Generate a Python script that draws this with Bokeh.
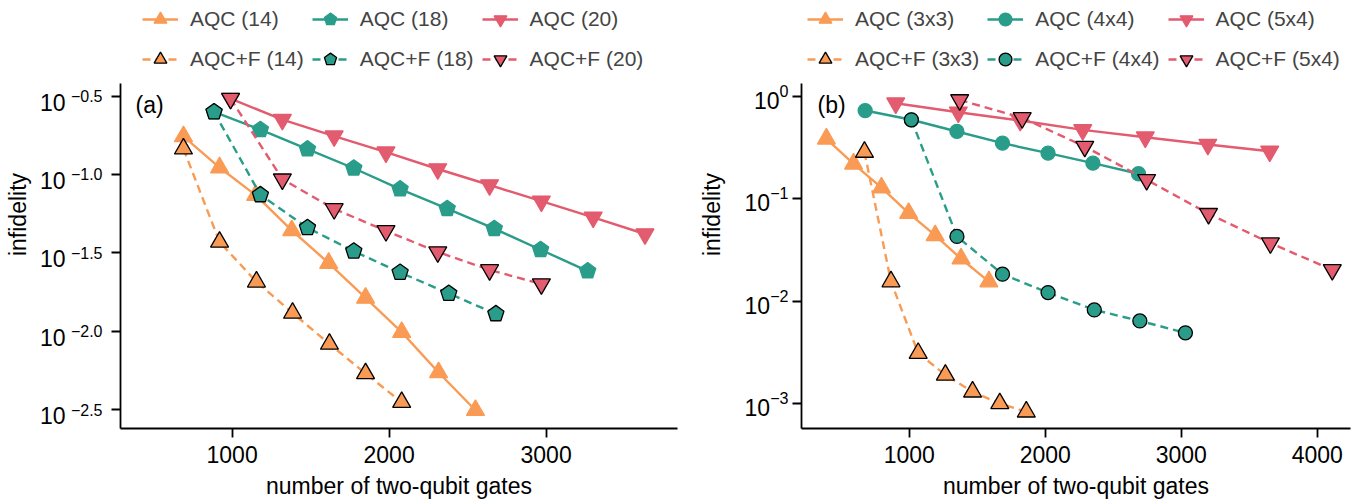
from bokeh.plotting import figure
from bokeh.models import (Range1d, FixedTicker, Legend, LegendItem, Label, LogAxis, LogScale)
from bokeh.layouts import row
from bokeh.embed import file_html
from bokeh.resources import INLINE

FONT = "Liberation Sans"
ORANGE = "#F99B55"
TEAL = "#2A9D8A"
RED = "#E35B6E"

# ---------------- panel (a) data ----------------
gates_14 = [690, 920, 1150, 1380, 1615, 1850, 2080, 2315, 2550]
infid_14 = [0.1750, 0.1107, 0.0738, 0.0440, 0.0272, 0.01629, 0.00986, 0.00545, 0.00313]
gates_f14 = [690, 920, 1155, 1385, 1620, 1850, 2080]
infid_f14 = [0.1459, 0.0371, 0.02065, 0.01306, 0.00828, 0.00537, 0.00352]
gates_18 = [885, 1180, 1480, 1775, 2070, 2370, 2670, 2965, 3265]
infid_18 = [0.2506, 0.1932, 0.1452, 0.1096, 0.0807, 0.0605, 0.0451, 0.0331, 0.0242]
gates_f18 = [885, 1180, 1480, 1775, 2070, 2380, 2680]
infid_f18 = [0.2506, 0.0741, 0.0457, 0.0324, 0.0237, 0.0174, 0.0129]
gates_20 = [990, 1320, 1650, 1980, 2310, 2640, 2970, 3300, 3630]
infid_20 = [0.305, 0.2239, 0.1758, 0.1387, 0.1084, 0.0857, 0.0675, 0.0533, 0.0417]
gates_f20 = [990, 1320, 1650, 1980, 2310, 2640, 2970]
infid_f20 = [0.305, 0.0933, 0.0603, 0.0437, 0.0320, 0.0246, 0.0200]

# ---------------- panel (b) data ----------------
gates_33 = [390, 590, 795, 995, 1190, 1380, 1585]
infid_33 = [0.384, 0.219, 0.128, 0.0722, 0.0438, 0.0259, 0.0155]
gates_f33 = [670, 865, 1065, 1265, 1465, 1665, 1860]
infid_f33 = [0.285, 0.0155, 0.0031, 0.0019, 0.0013, 0.00100, 0.00083]
gates_44 = [675, 1015, 1350, 1685, 2020, 2350, 2685]
infid_44 = [0.725, 0.589, 0.453, 0.348, 0.278, 0.222, 0.175]
gates_f44 = [1015, 1350, 1685, 2020, 2360, 2695, 3030]
infid_f44 = [0.589, 0.0428, 0.0183, 0.0121, 0.0082, 0.0064, 0.0049]
gates_54 = [900, 1360, 1815, 2275, 2735, 3195, 3650]
infid_54 = [0.855, 0.698, 0.579, 0.470, 0.398, 0.338, 0.290]
gates_f54 = [1370, 1830, 2290, 2745, 3200, 3655, 4110]
infid_f54 = [0.92, 0.615, 0.323, 0.153, 0.0713, 0.0368, 0.0202]

# ---------------- ticks / labels ----------------
xticks_a = [1000, 2000, 3000]
yticks_a = [0.31622776601683794, 0.1, 0.0316227766016838, 0.01, 0.0031622776601683794]
yexp_a = ["\u22120.5", "\u22121.0", "\u22121.5", "\u22122.0", "\u22122.5"]
xticks_b = [1000, 2000, 3000, 4000]
yticks_b = [0.001, 0.01, 0.1, 1.0]

labels_a = ["AQC (14)", "AQC (18)", "AQC (20)", "AQC+F (14)", "AQC+F (18)", "AQC+F (20)"]
labels_b = ["AQC (3x3)", "AQC (4x4)", "AQC (5x4)", "AQC+F (3x3)", "AQC+F (4x4)", "AQC+F (5x4)"]


def style_axis(ax, size="23px"):
    ax.axis_line_width = 1.8
    ax.axis_line_color = "black"
    ax.major_tick_line_width = 1.8
    ax.major_tick_line_color = "black"
    ax.major_tick_out = 9
    ax.major_tick_in = 0
    ax.minor_tick_line_color = None
    ax.major_label_text_font = FONT
    ax.major_label_text_font_size = size
    ax.major_label_text_color = "black"
    ax.axis_label_text_font = FONT
    ax.axis_label_text_font_size = "23px"
    ax.axis_label_text_font_style = "normal"
    ax.axis_label_text_color = "black"


def make_fig(width, xr, yr, bl, br):
    # the frame reaches the top of the canvas so that the legend sits inside it;
    # the y axis line is bounded to the data area
    p = figure(width=width, height=504, y_axis_type="log",
               x_range=Range1d(*xr), y_range=Range1d(*yr),
               output_backend="svg", toolbar_location=None,
               min_border_left=bl, min_border_right=br,
               min_border_top=0, min_border_bottom=76)
    p.outline_line_color = None
    p.xgrid.visible = False
    p.ygrid.visible = False
    style_axis(p.xaxis[0])
    style_axis(p.yaxis[0])
    p.xaxis[0].major_label_standoff = 8
    p.xaxis[0].axis_label_standoff = 7
    p.xaxis.axis_label = "number of two-qubit gates"
    return p


def series(p, x, y, color, marker, with_f):
    dash = "8 5" if with_f else "solid"
    ln = p.line(x, y, line_color=color, line_width=2.4, line_dash=dash)
    edge = "black" if with_f else color
    if marker == "pentagon":
        mk = p.ngon(x, y, radius=8.5, radius_units="screen", n=5, angle=0,
                    fill_color=color, line_color=edge, line_width=1.3)
    else:
        size = 14 if marker == "circle" else 18
        mk = p.scatter(x, y, marker=marker, size=size, fill_color=color,
                       line_color=edge, line_width=1.3)
    return [ln, mk]


def add_legend(p, items, x0):
    lg = Legend(items=items, location=(x0, 353), orientation="horizontal", ncols=3,
                glyph_width=36, glyph_height=32, label_height=32, spacing=8,
                label_standoff=12, padding=0, margin=0,
                label_text_font=FONT, label_text_font_size="21px",
                border_line_color=None, background_fill_alpha=0)
    p.add_layout(lg)


# ---------------- panel (a) ----------------
ya_lo, ya_hi = 0.002393, 0.3811
pa = make_fig(680, (289, 3837), (ya_lo, 1.289), 120, 3)
pa.xaxis.ticker = FixedTicker(ticks=xticks_a)
ya = pa.yaxis[0]
ya.ticker = FixedTicker(ticks=yticks_a)
ya.bounds = (ya_lo, ya_hi)
ya.major_label_overrides = dict(zip(yticks_a, yexp_a))
ya.major_label_text_font_size = "16px"
ya.major_label_standoff = 9

# base "10" of each tick label, set a few pixels lower than the exponent
shift = 1.0922
pa.extra_y_ranges = {"base": Range1d(ya_lo * shift, 1.289 * shift)}
pa.extra_y_scales = {"base": LogScale()}
yb = LogAxis(y_range_name="base", ticker=FixedTicker(ticks=yticks_a),
             bounds=(ya_lo * shift, ya_hi * shift))
style_axis(yb)
yb.axis_line_color = None
yb.major_tick_line_color = None
yb.major_tick_out = 0
yb.major_label_standoff = 2
yb.major_label_overrides = {t: "10" for t in yticks_a}
yb.axis_label = "infidelity"
yb.axis_label_standoff = 6
pa.add_layout(yb, "left")

ra = {}
ra[0] = series(pa, gates_14, infid_14, ORANGE, "triangle", False)
ra[1] = series(pa, gates_18, infid_18, TEAL, "pentagon", False)
ra[2] = series(pa, gates_20, infid_20, RED, "inverted_triangle", False)
ra[3] = series(pa, gates_f14, infid_f14, ORANGE, "triangle", True)
ra[4] = series(pa, gates_f18, infid_f18, TEAL, "pentagon", True)
ra[5] = series(pa, gates_f20, infid_f20, RED, "inverted_triangle", True)
add_legend(pa, [LegendItem(label=labels_a[i], renderers=ra[i]) for i in range(6)], 22)

pa.add_layout(Label(x=15, y=337, x_units="screen", y_units="screen", text="(a)",
                    text_font=FONT, text_font_size="23px", text_baseline="top",
                    text_color="black"))

# ---------------- panel (b) ----------------
yb_lo, yb_hi = 0.000570, 1.333
pb = make_fig(674, (207, 4244), (yb_lo, 8.606), 121, 4)
pb.xaxis.ticker = FixedTicker(ticks=xticks_b)
pb.yaxis.ticker = FixedTicker(ticks=yticks_b)
pb.yaxis.bounds = (yb_lo, yb_hi)
pb.yaxis.major_label_standoff = 4
pb.yaxis.axis_label = "infidelity"
pb.yaxis.axis_label_standoff = 17

rb = {}
rb[0] = series(pb, gates_33, infid_33, ORANGE, "triangle", False)
rb[1] = series(pb, gates_44, infid_44, TEAL, "circle", False)
rb[2] = series(pb, gates_54, infid_54, RED, "inverted_triangle", False)
rb[3] = series(pb, gates_f33, infid_f33, ORANGE, "triangle", True)
rb[4] = series(pb, gates_f44, infid_f44, TEAL, "circle", True)
rb[5] = series(pb, gates_f54, infid_f54, RED, "inverted_triangle", True)
add_legend(pb, [LegendItem(label=labels_b[i], renderers=rb[i]) for i in range(6)], 6)

pb.add_layout(Label(x=16, y=337, x_units="screen", y_units="screen", text="(b)",
                    text_font=FONT, text_font_size="23px", text_baseline="top",
                    text_color="black"))

layout = row(pa, pb)
open("out.html", "w").write(file_html(layout, INLINE))
